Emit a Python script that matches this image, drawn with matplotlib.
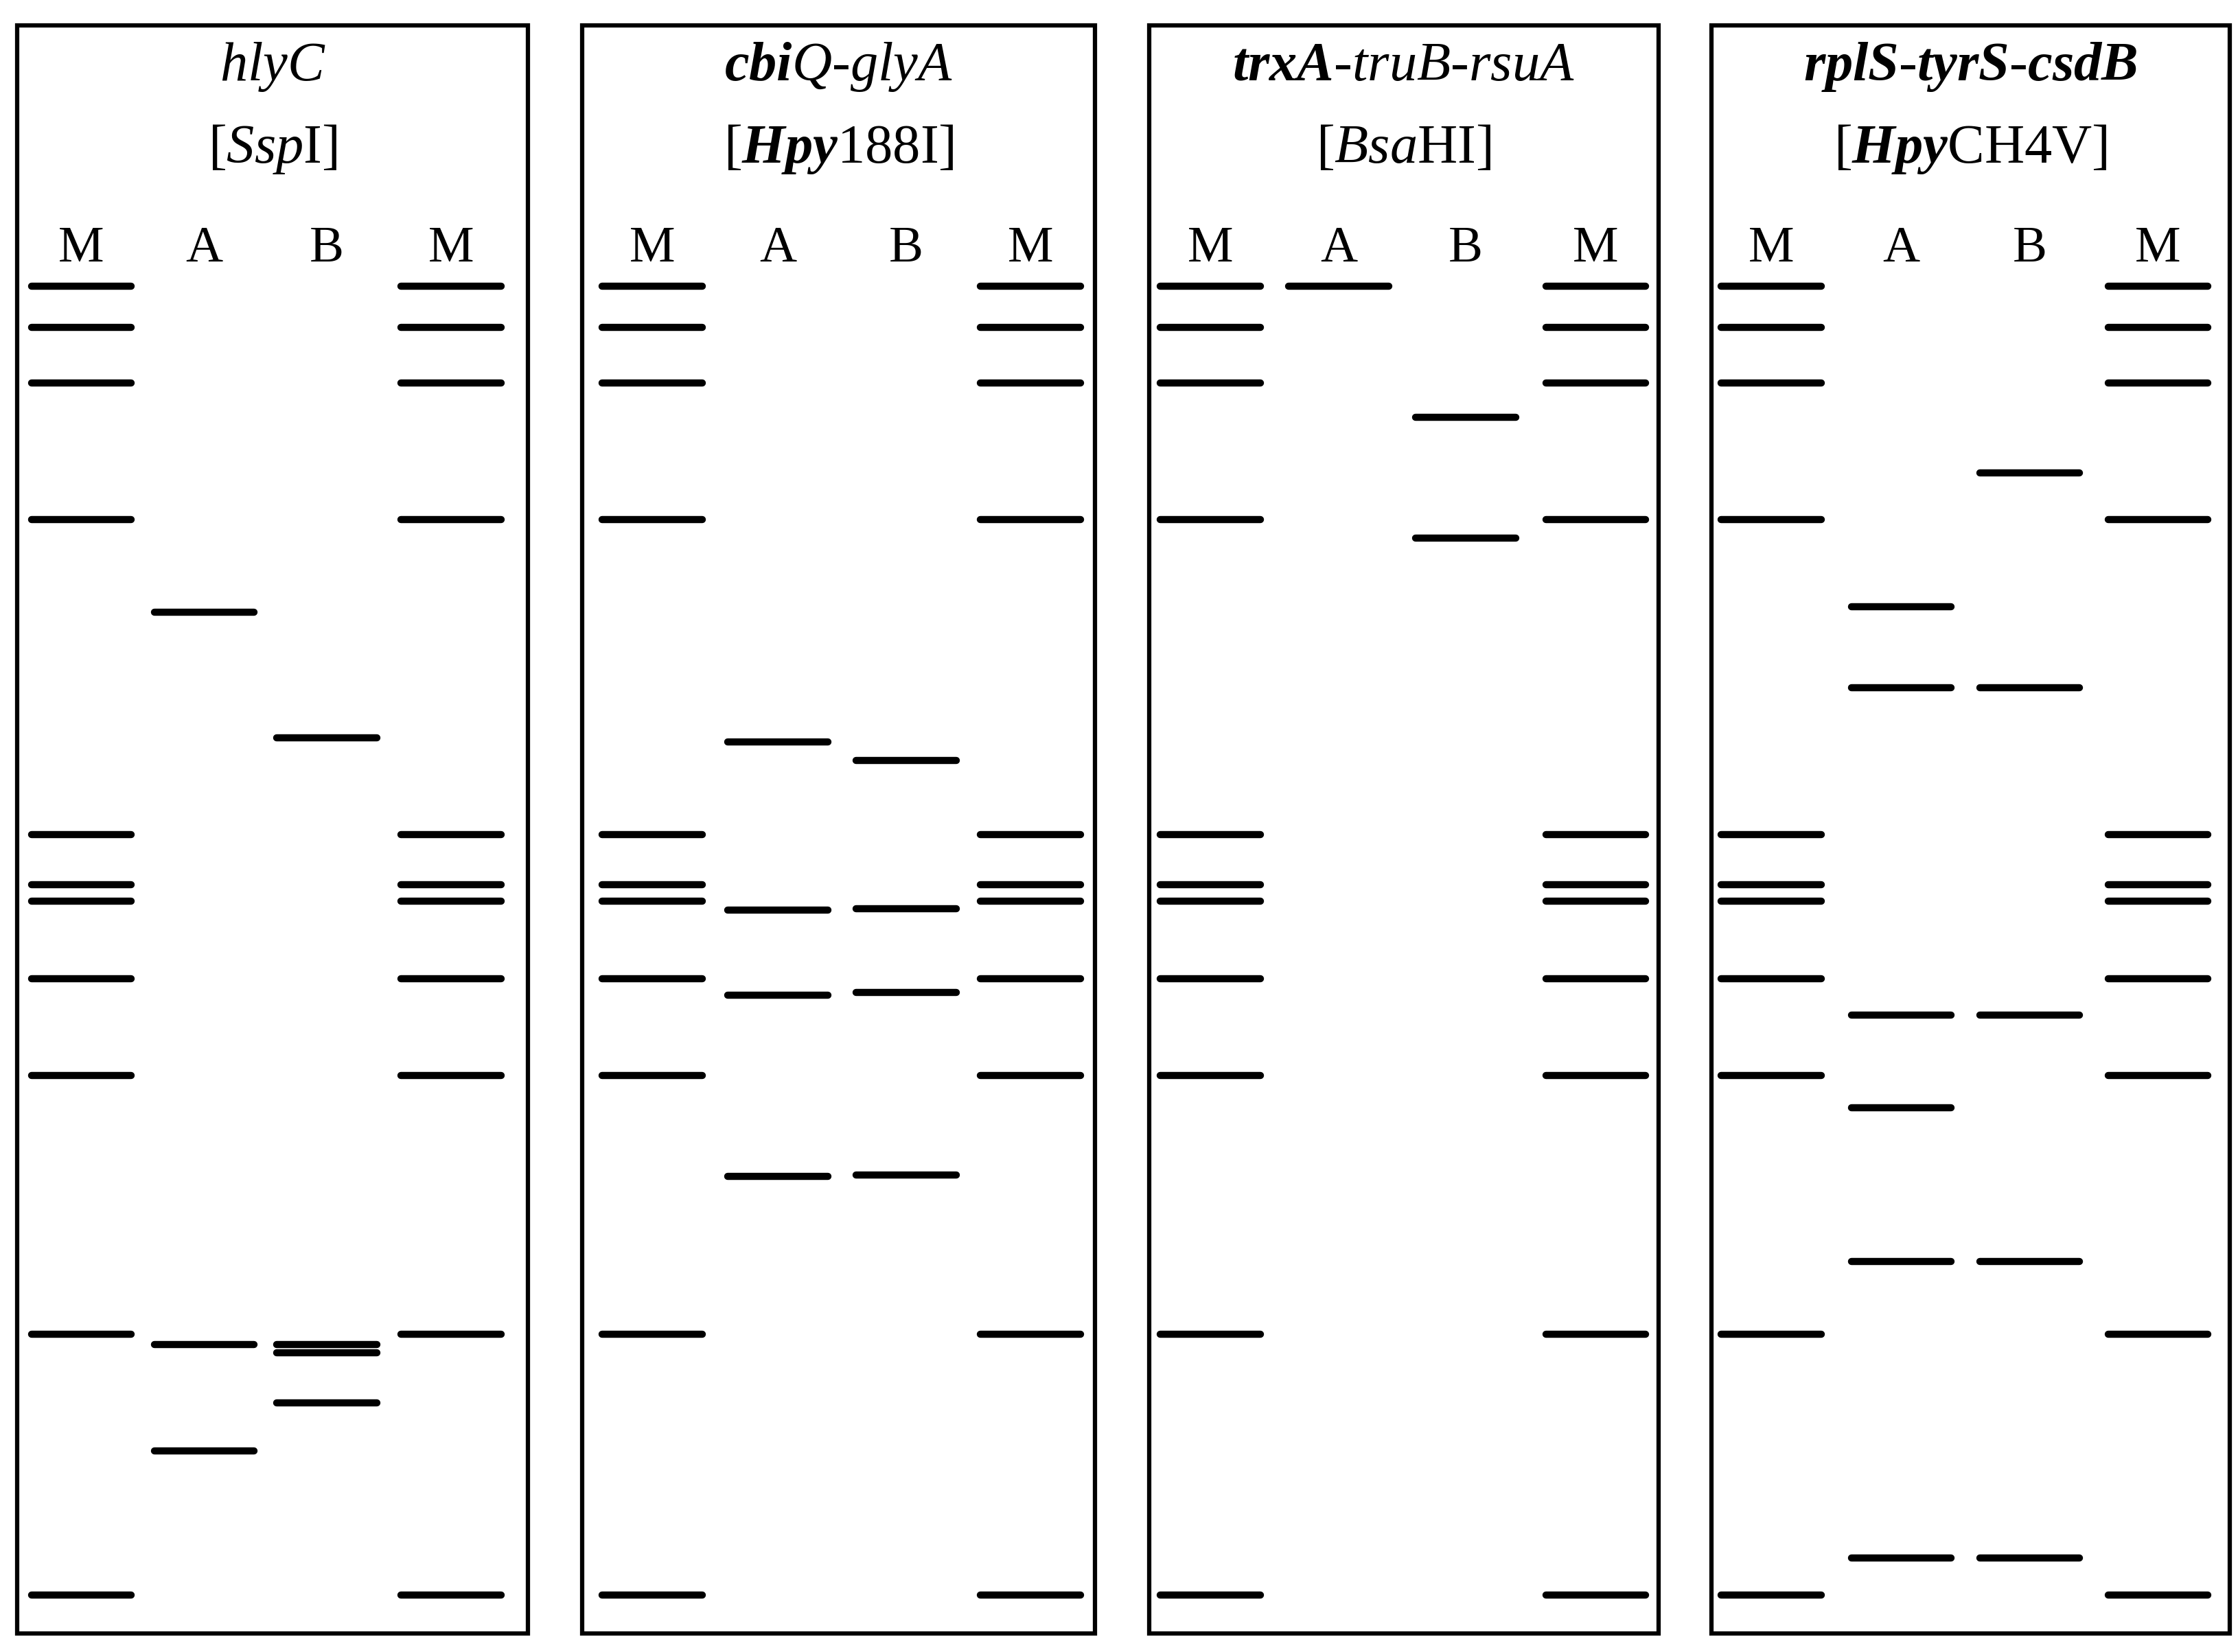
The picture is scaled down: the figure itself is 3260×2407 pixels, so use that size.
import matplotlib.pyplot as plt
from matplotlib.patches import Rectangle

plt.rcParams['font.family'] = ['Liberation Serif', 'DejaVu Serif']
plt.rcParams['mathtext.fontset'] = 'custom'
plt.rcParams['mathtext.rm'] = 'Liberation Serif'
plt.rcParams['mathtext.it'] = 'Liberation Serif:italic'
plt.rcParams['mathtext.bf'] = 'Liberation Serif:bold'
plt.rcParams['mathtext.bfit'] = 'Liberation Serif:italic:bold'

# gel panels (band positions = migration distance, image px from top)
titles = [r'$\mathit{hlyC}$', r'$\mathbfit{cbi}\mathit{Q\text{-}glyA}$',
          r'$\mathbfit{trxA}\mathit{\text{-}truB\text{-}rsuA}$', r'$\mathbfit{rplS\text{-}tyrS\text{-}csdB}$']
enzymes = [r'[$\mathit{Ssp}$I]', r'[$\mathbfit{Hpy}$188I]', r'[$\mathit{Bsa}$HI]', r'[$\mathbfit{Hpy}$CH4V]']
lane_labels = ['M', 'A', 'B', 'M']

marker = [201, 230, 269, 365, 586, 621, 633, 687, 755, 937, 1120]
lanes_A = [[430, 944, 1019],
           [521, 639, 699, 826],
           [201],
           [426, 483, 713, 778, 886, 1094]]
lanes_B = [[518, 944, 950, 985],
           [534, 638, 697, 825],
           [293, 378],
           [332, 483, 713, 886, 1094]]

panel_left = [12, 408, 805, 1199]
panel_right = [370, 767, 1162, 1562]
lane_centers = [[57, 143, 229, 316], [457, 545, 635, 722], [848, 938, 1027, 1118], [1241, 1332, 1422, 1512]]
half_w = 35

fig = plt.figure(figsize=(32.6, 24.07), dpi=100)
ax = fig.add_axes([0, 0, 1, 1])
ax.set_xlim(0, 1568)
ax.set_ylim(1160, 0)
ax.axis('off')

for i in range(4):
    l, r = panel_left[i], panel_right[i]
    ax.add_patch(Rectangle((l, 18), r - l, 1129, fill=False, lw=4.5, ec='black'))
    cx = (l + r) / 2
    ax.text(cx, 47, titles[i], ha='center', va='center', fontsize=58)
    ax.text(cx, 105, enzymes[i], ha='center', va='center', fontsize=58)
    lanes = [marker, lanes_A[i], lanes_B[i], marker]
    for j, c in enumerate(lane_centers[i]):
        ax.text(c, 175, lane_labels[j], ha='center', va='center', fontsize=54)
        ax.hlines(lanes[j], c - half_w, c + half_w, colors='black', lw=7.5, capstyle='round')

fig.savefig('out.png', dpi=100)
